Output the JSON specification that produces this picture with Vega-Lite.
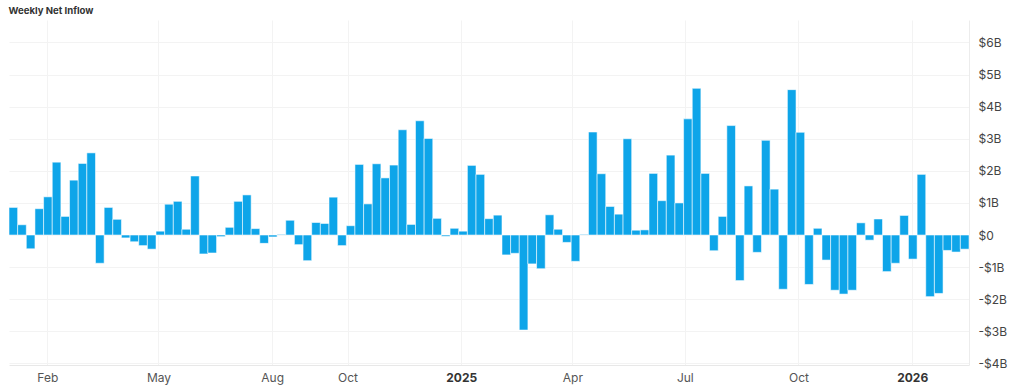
{
  "$schema": "https://vega.github.io/schema/vega-lite/v6.json",
  "autosize": {"type": "none"},
  "width": 960,
  "height": 345,
  "padding": {"left": 9, "top": 20, "right": 55, "bottom": 27},
  "background": "white",
  "title": {"text": "Weekly Net Inflow", "anchor": "start", "fontSize": 9.6, "fontWeight": "bold", "color": "#333333", "font": "Inter", "offset": 4},
  "config": {"view": {"stroke": null}, "font": "Inter"},
  "data": {"values": [
    {"week": "2024-01-01", "end": "2024-01-08", "flow": 0.86},
    {"week": "2024-01-08", "end": "2024-01-15", "flow": 0.32},
    {"week": "2024-01-15", "end": "2024-01-22", "flow": -0.43},
    {"week": "2024-01-22", "end": "2024-01-29", "flow": 0.82},
    {"week": "2024-01-29", "end": "2024-02-05", "flow": 1.19},
    {"week": "2024-02-05", "end": "2024-02-12", "flow": 2.27},
    {"week": "2024-02-12", "end": "2024-02-19", "flow": 0.58},
    {"week": "2024-02-19", "end": "2024-02-26", "flow": 1.71},
    {"week": "2024-02-26", "end": "2024-03-04", "flow": 2.23},
    {"week": "2024-03-04", "end": "2024-03-11", "flow": 2.56},
    {"week": "2024-03-11", "end": "2024-03-18", "flow": -0.88},
    {"week": "2024-03-18", "end": "2024-03-25", "flow": 0.86},
    {"week": "2024-03-25", "end": "2024-04-01", "flow": 0.49},
    {"week": "2024-04-01", "end": "2024-04-08", "flow": -0.09},
    {"week": "2024-04-08", "end": "2024-04-15", "flow": -0.21},
    {"week": "2024-04-15", "end": "2024-04-22", "flow": -0.33},
    {"week": "2024-04-22", "end": "2024-04-29", "flow": -0.44},
    {"week": "2024-04-29", "end": "2024-05-06", "flow": 0.12},
    {"week": "2024-05-06", "end": "2024-05-13", "flow": 0.96},
    {"week": "2024-05-13", "end": "2024-05-20", "flow": 1.05},
    {"week": "2024-05-20", "end": "2024-05-27", "flow": 0.18},
    {"week": "2024-05-27", "end": "2024-06-03", "flow": 1.84},
    {"week": "2024-06-03", "end": "2024-06-10", "flow": -0.59},
    {"week": "2024-06-10", "end": "2024-06-17", "flow": -0.56},
    {"week": "2024-06-17", "end": "2024-06-24", "flow": -0.05},
    {"week": "2024-06-24", "end": "2024-07-01", "flow": 0.24},
    {"week": "2024-07-01", "end": "2024-07-08", "flow": 1.05},
    {"week": "2024-07-08", "end": "2024-07-15", "flow": 1.25},
    {"week": "2024-07-15", "end": "2024-07-22", "flow": 0.20},
    {"week": "2024-07-22", "end": "2024-07-29", "flow": -0.26},
    {"week": "2024-07-29", "end": "2024-08-05", "flow": -0.06},
    {"week": "2024-08-05", "end": "2024-08-12", "flow": 0.02},
    {"week": "2024-08-12", "end": "2024-08-19", "flow": 0.46},
    {"week": "2024-08-19", "end": "2024-08-26", "flow": -0.30},
    {"week": "2024-08-26", "end": "2024-09-02", "flow": -0.80},
    {"week": "2024-09-02", "end": "2024-09-09", "flow": 0.39},
    {"week": "2024-09-09", "end": "2024-09-16", "flow": 0.36},
    {"week": "2024-09-16", "end": "2024-09-23", "flow": 1.18},
    {"week": "2024-09-23", "end": "2024-09-30", "flow": -0.33},
    {"week": "2024-09-30", "end": "2024-10-07", "flow": 0.29},
    {"week": "2024-10-07", "end": "2024-10-14", "flow": 2.20},
    {"week": "2024-10-14", "end": "2024-10-21", "flow": 0.97},
    {"week": "2024-10-21", "end": "2024-10-28", "flow": 2.22},
    {"week": "2024-10-28", "end": "2024-11-04", "flow": 1.78},
    {"week": "2024-11-04", "end": "2024-11-11", "flow": 2.18},
    {"week": "2024-11-11", "end": "2024-11-18", "flow": 3.28},
    {"week": "2024-11-18", "end": "2024-11-25", "flow": 0.33},
    {"week": "2024-11-25", "end": "2024-12-02", "flow": 3.56},
    {"week": "2024-12-02", "end": "2024-12-09", "flow": 3.01},
    {"week": "2024-12-09", "end": "2024-12-16", "flow": 0.52},
    {"week": "2024-12-16", "end": "2024-12-23", "flow": -0.04},
    {"week": "2024-12-23", "end": "2024-12-30", "flow": 0.21},
    {"week": "2024-12-30", "end": "2025-01-06", "flow": 0.12},
    {"week": "2025-01-06", "end": "2025-01-13", "flow": 2.17},
    {"week": "2025-01-13", "end": "2025-01-20", "flow": 1.89},
    {"week": "2025-01-20", "end": "2025-01-27", "flow": 0.51},
    {"week": "2025-01-27", "end": "2025-02-03", "flow": 0.62},
    {"week": "2025-02-03", "end": "2025-02-10", "flow": -0.62},
    {"week": "2025-02-10", "end": "2025-02-17", "flow": -0.57},
    {"week": "2025-02-17", "end": "2025-02-24", "flow": -2.96},
    {"week": "2025-02-24", "end": "2025-03-03", "flow": -0.90},
    {"week": "2025-03-03", "end": "2025-03-10", "flow": -1.05},
    {"week": "2025-03-10", "end": "2025-03-17", "flow": 0.63},
    {"week": "2025-03-17", "end": "2025-03-24", "flow": 0.18},
    {"week": "2025-03-24", "end": "2025-03-31", "flow": -0.23},
    {"week": "2025-03-31", "end": "2025-04-07", "flow": -0.82},
    {"week": "2025-04-07", "end": "2025-04-14", "flow": 0.02},
    {"week": "2025-04-14", "end": "2025-04-21", "flow": 3.21},
    {"week": "2025-04-21", "end": "2025-04-28", "flow": 1.91},
    {"week": "2025-04-28", "end": "2025-05-05", "flow": 0.89},
    {"week": "2025-05-05", "end": "2025-05-12", "flow": 0.65},
    {"week": "2025-05-12", "end": "2025-05-19", "flow": 3.00},
    {"week": "2025-05-19", "end": "2025-05-26", "flow": 0.15},
    {"week": "2025-05-26", "end": "2025-06-02", "flow": 0.16},
    {"week": "2025-06-02", "end": "2025-06-09", "flow": 1.92},
    {"week": "2025-06-09", "end": "2025-06-16", "flow": 1.07},
    {"week": "2025-06-16", "end": "2025-06-23", "flow": 2.49},
    {"week": "2025-06-23", "end": "2025-06-30", "flow": 1.00},
    {"week": "2025-06-30", "end": "2025-07-07", "flow": 3.62},
    {"week": "2025-07-07", "end": "2025-07-14", "flow": 4.57},
    {"week": "2025-07-14", "end": "2025-07-21", "flow": 1.92},
    {"week": "2025-07-21", "end": "2025-07-28", "flow": -0.49},
    {"week": "2025-07-28", "end": "2025-08-04", "flow": 0.58},
    {"week": "2025-08-04", "end": "2025-08-11", "flow": 3.41},
    {"week": "2025-08-11", "end": "2025-08-18", "flow": -1.42},
    {"week": "2025-08-18", "end": "2025-08-25", "flow": 1.53},
    {"week": "2025-08-25", "end": "2025-09-01", "flow": -0.54},
    {"week": "2025-09-01", "end": "2025-09-08", "flow": 2.95},
    {"week": "2025-09-08", "end": "2025-09-15", "flow": 1.43},
    {"week": "2025-09-15", "end": "2025-09-22", "flow": -1.69},
    {"week": "2025-09-22", "end": "2025-09-29", "flow": 4.53},
    {"week": "2025-09-29", "end": "2025-10-06", "flow": 3.20},
    {"week": "2025-10-06", "end": "2025-10-13", "flow": -1.54},
    {"week": "2025-10-13", "end": "2025-10-20", "flow": 0.21},
    {"week": "2025-10-20", "end": "2025-10-27", "flow": -0.78},
    {"week": "2025-10-27", "end": "2025-11-03", "flow": -1.72},
    {"week": "2025-11-03", "end": "2025-11-10", "flow": -1.84},
    {"week": "2025-11-10", "end": "2025-11-17", "flow": -1.72},
    {"week": "2025-11-17", "end": "2025-11-24", "flow": 0.38},
    {"week": "2025-11-24", "end": "2025-12-01", "flow": -0.16},
    {"week": "2025-12-01", "end": "2025-12-08", "flow": 0.50},
    {"week": "2025-12-08", "end": "2025-12-15", "flow": -1.14},
    {"week": "2025-12-15", "end": "2025-12-22", "flow": -0.88},
    {"week": "2025-12-22", "end": "2025-12-29", "flow": 0.61},
    {"week": "2025-12-29", "end": "2026-01-05", "flow": -0.75},
    {"week": "2026-01-05", "end": "2026-01-12", "flow": 1.89},
    {"week": "2026-01-12", "end": "2026-01-19", "flow": -1.92},
    {"week": "2026-01-19", "end": "2026-01-26", "flow": -1.82},
    {"week": "2026-01-26", "end": "2026-02-02", "flow": -0.48},
    {"week": "2026-02-02", "end": "2026-02-09", "flow": -0.53},
    {"week": "2026-02-09", "end": "2026-02-16", "flow": -0.44}
  ]},
  "mark": {"type": "bar", "color": "#0ea5e9", "stroke": "#ffffff", "strokeWidth": 1, "strokeOpacity": 0.55},
  "encoding": {
    "x": {
      "field": "week", "type": "temporal",
      "scale": {"type": "utc", "domain": [{"year": 2024, "month": 1, "date": 1, "utc": true}, {"year": 2026, "month": 2, "date": 16, "utc": true}]},
      "axis": {
        "title": null,
        "values": [
          {"year": 2024, "month": 2, "date": 1, "utc": true},
          {"year": 2024, "month": 5, "date": 1, "utc": true},
          {"year": 2024, "month": 8, "date": 1, "utc": true},
          {"year": 2024, "month": 10, "date": 1, "utc": true},
          {"year": 2025, "month": 1, "date": 1, "utc": true},
          {"year": 2025, "month": 4, "date": 1, "utc": true},
          {"year": 2025, "month": 7, "date": 1, "utc": true},
          {"year": 2025, "month": 10, "date": 1, "utc": true},
          {"year": 2026, "month": 1, "date": 1, "utc": true}
        ],
        "labelExpr": "utcmonth(datum.value) == 0 ? utcFormat(datum.value, '%Y') : utcFormat(datum.value, '%b')",
        "labelFontWeight": {"condition": {"test": "utcmonth(datum.value) == 0", "value": "bold"}, "value": "normal"},
        "labelColor": {"condition": {"test": "utcmonth(datum.value) == 0", "value": "#333333"}, "value": "#555555"},
        "labelFontSize": 12,
        "labelPadding": 7,
        "ticks": false,
        "grid": true,
        "gridColor": "#f3f3f3",
        "domain": true,
        "domainColor": "#e8e8e8",
        "labelFlush": false
      }
    },
    "x2": {"field": "end"},
    "y": {
      "field": "flow", "type": "quantitative",
      "scale": {"domain": [-4.05, 6.7], "nice": false},
      "axis": {
        "title": null,
        "orient": "right",
        "values": [-4, -3, -2, -1, 0, 1, 2, 3, 4, 5, 6],
        "labelExpr": "datum.value == 0 ? '$0' : (datum.value < 0 ? '-$' + abs(datum.value) + 'B' : '$' + datum.value + 'B')",
        "labelFontSize": 12,
        "labelColor": "#444444",
        "labelPadding": 9,
        "ticks": false,
        "grid": true,
        "gridColor": "#f3f3f3",
        "domain": true,
        "domainColor": "#ececec",
        "labelFlush": false
      }
    },
    "y2": {"datum": 0}
  }
}
